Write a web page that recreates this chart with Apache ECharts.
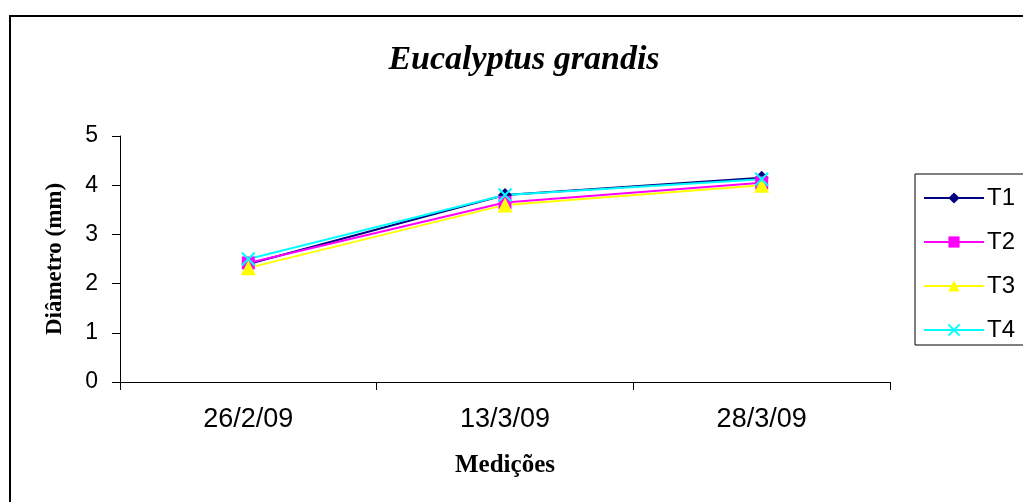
<!DOCTYPE html>
<html>
<head>
<meta charset="utf-8">
<script src="https://cdn.jsdelivr.net/npm/echarts@6/dist/echarts.min.js"></script>
<style>
  html, body { margin: 0; padding: 0; background: #ffffff; }
  #chart { width: 1023px; height: 502px; }
</style>
</head>
<body>
<div id="chart"></div>
<script>
  var dates = ["26/2/09", "13/3/09", "28/3/09"];
  var t1 = [2.40, 3.80, 4.15];
  var t2 = [2.42, 3.65, 4.05];
  var t3 = [2.32, 3.60, 4.00];
  var t4 = [2.50, 3.80, 4.12];
  var yTicks = [0, 1, 2, 3, 4, 5];

  var seriesDefs = [
    {name: "T1", data: t1, color: "#000080", symbol: "diamond", size: 14},
    {name: "T2", data: t2, color: "#ff00ff", symbol: "rect", size: 13},
    {name: "T3", data: t3, color: "#ffff00", symbol: "triangle", size: 15},
    {name: "T4", data: t4, color: "#00ffff", symbol: "path://M0,0L2,2M2,0L0,2", size: 13}
  ];

  var chart = echarts.init(document.getElementById("chart"));

  var series = seriesDefs.map(function(d) {
    var isCross = d.name === "T4";
    return {
      name: d.name,
      type: "line",
      data: d.data,
      symbol: d.symbol,
      symbolSize: d.size,
      showAllSymbol: true,
      lineStyle: {color: d.color, width: 2},
      itemStyle: isCross
        ? {color: "transparent", borderColor: d.color, borderWidth: 2}
        : {color: d.color, borderWidth: 0},
      emphasis: {disabled: true},
      animation: false
    };
  });

  chart.setOption({
    animation: false,
    backgroundColor: "#ffffff",
    title: {
      text: "Eucalyptus grandis",
      left: 519,
      top: 38,
      textAlign: "center",
      textStyle: {
        fontFamily: "Liberation Serif",
        fontStyle: "italic",
        fontWeight: "bold",
        fontSize: 34,
        color: "#000000"
      }
    },
    graphic: [{
      type: "rect",
      shape: {x: 10, y: 16, width: 1030, height: 500},
      style: {fill: "none", stroke: "#000000", lineWidth: 2},
      silent: true
    }],
    legend: {
      orient: "vertical",
      left: 915,
      top: 174,
      padding: [12, 40, 3, 8],
      itemGap: 20,
      itemWidth: 60,
      itemHeight: 14,
      borderColor: "#000000",
      borderWidth: 1,
      textStyle: {fontFamily: "Liberation Sans", fontSize: 24, color: "#000000", padding: [0, 0, 0, -2]},
      data: ["T1", "T2", "T3", "T4"]
    },
    grid: {left: 120, right: 133, top: 136, bottom: 120, containLabel: false},
    xAxis: {
      type: "category",
      data: dates,
      boundaryGap: true,
      name: "Medições",
      nameLocation: "middle",
      nameGap: 71,
      nameTextStyle: {fontFamily: "Liberation Serif", fontWeight: "bold", fontSize: 25, color: "#000000"},
      axisLine: {lineStyle: {color: "#000000", width: 1}},
      axisTick: {show: true, inside: false, length: 8, lineStyle: {color: "#000000"}},
      axisLabel: {fontFamily: "Liberation Sans", fontSize: 27, color: "#000000", margin: 24}
    },
    yAxis: {
      type: "value",
      min: yTicks[0],
      max: yTicks[yTicks.length - 1],
      interval: 1,
      name: "Diâmetro (mm)",
      nameLocation: "middle",
      nameGap: 53,
      nameRotate: 90,
      nameTextStyle: {fontFamily: "Liberation Serif", fontWeight: "bold", fontSize: 23, color: "#000000"},
      axisLine: {show: true, lineStyle: {color: "#000000", width: 1}},
      axisTick: {show: true, inside: false, length: 8, lineStyle: {color: "#000000"}},
      axisLabel: {fontFamily: "Liberation Sans", fontSize: 23, color: "#000000", margin: 22},
      splitLine: {show: false}
    },
    series: series
  });
</script>
</body>
</html>
